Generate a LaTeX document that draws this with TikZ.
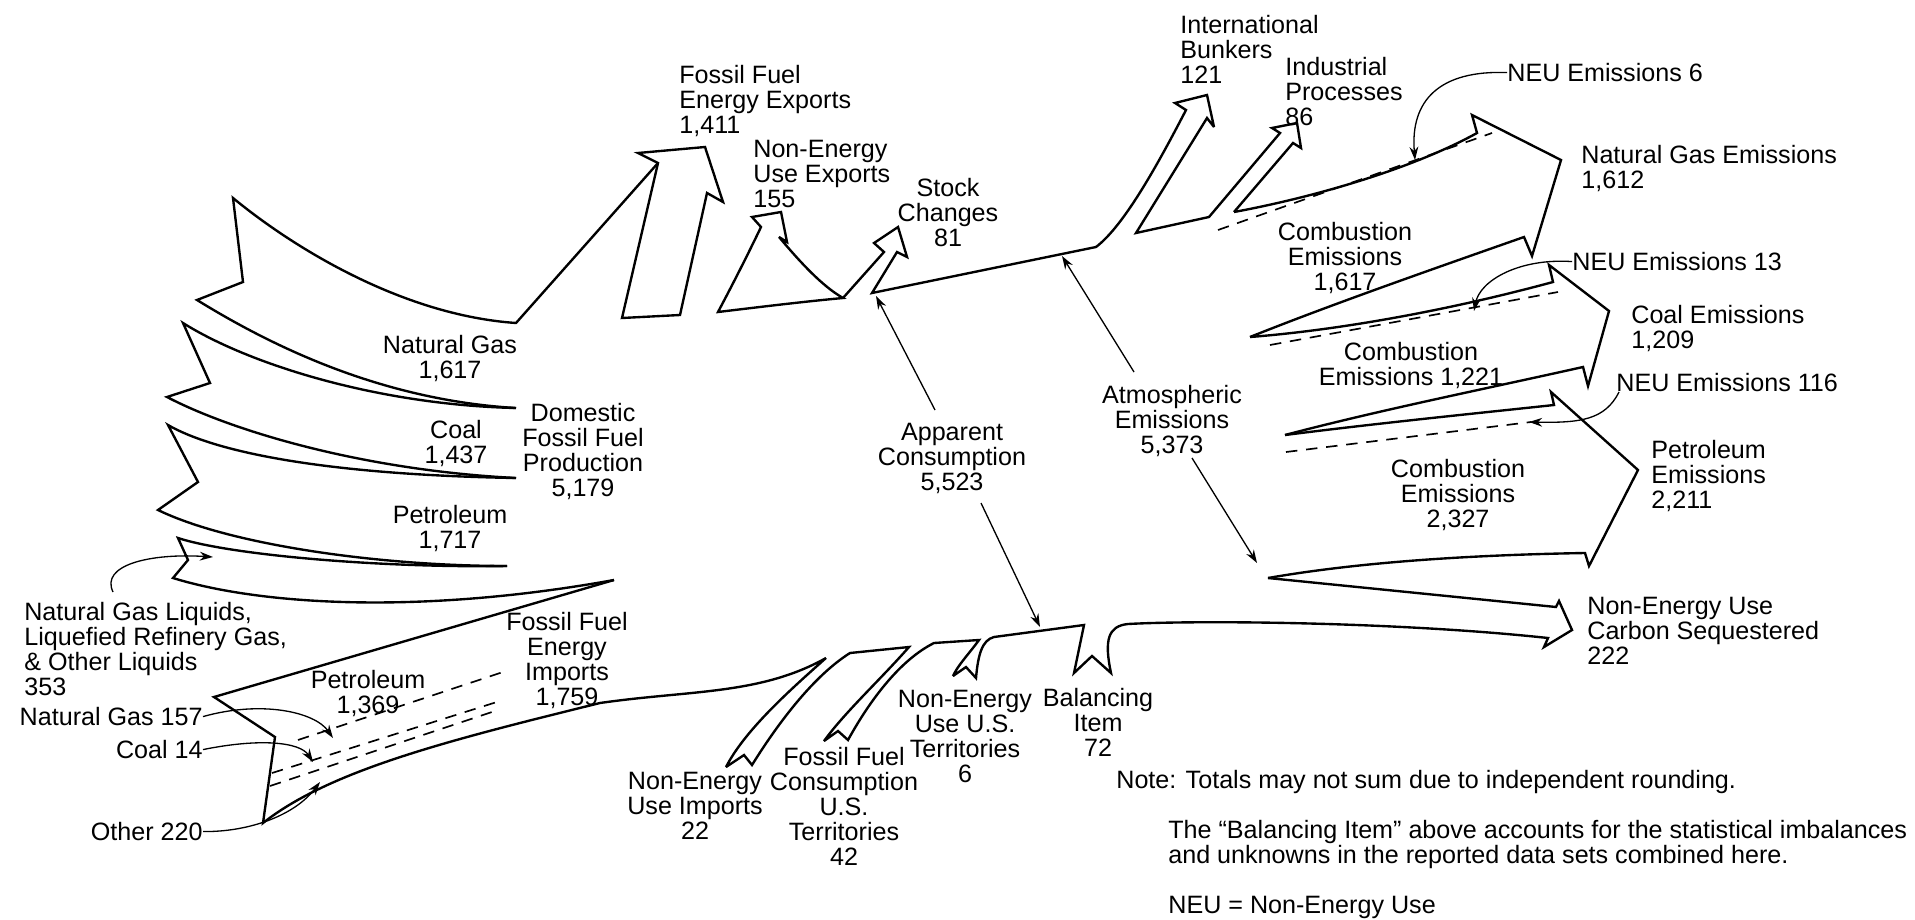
\documentclass[tikz,border=0pt]{standalone}
\usepackage{fontspec}
\setmainfont{Liberation Sans}
\usetikzlibrary{arrows.meta}
\newcommand\lblfont{\fontsize{14.3}{14.2}\selectfont}
\begin{document}
\begin{tikzpicture}[x=0.02cm, y=-0.02cm,
  flow/.style={line width=1.35pt, line join=miter, miter limit=4},
  sep/.style={line width=0.95pt, dash pattern=on 6.5pt off 5pt},
  ptr/.style={line width=0.75pt, -{Stealth[length=7.5pt,width=5pt]}},
  lbl/.style={font=\lblfont, inner sep=0pt, align=center, anchor=north},
  lbll/.style={font=\lblfont, inner sep=0pt, align=left, anchor=north west},
  lblr/.style={font=\lblfont, inner sep=0pt, align=right, anchor=north east}]
\useasboundingbox (0,0) rectangle (1915,919);

% ---------- domestic production ribbons ----------
\draw[flow] (658,163) -- (516,323) .. controls (400,315) and (290,245) .. (233,198)
  -- (243,282) -- (197,300) .. controls (270,345) and (380,400) .. (516,408);
\draw[flow] (516,408) .. controls (380,405) and (250,365) .. (183,323)
  -- (210,383) -- (167,397) .. controls (230,430) and (360,470) .. (516,478);
\draw[flow] (516,478) .. controls (340,475) and (220,455) .. (168,425)
  -- (198,482) -- (158,510) .. controls (230,545) and (380,566) .. (507,566);
\draw[flow] (507,566) .. controls (380,568) and (230,555) .. (178,538)
  -- (188,560) -- (173,578) .. controls (260,605) and (420,615) .. (614,580);

% ---------- imports and lower boundary with small inflows ----------
\draw[flow] (614,580) -- (214,697) -- (275,737) -- (263,823)
  .. controls (330,770) and (450,740) .. (600,703)
  .. controls (690,690) and (760,695) .. (826,658)
  .. controls (790,690) and (745,730) .. (726,767) -- (744,755) -- (752,765)
  .. controls (780,720) and (815,675) .. (850,653) -- (909,647)
  .. controls (880,680) and (845,712) .. (824,741) -- (838,731) -- (848,740)
  .. controls (870,700) and (900,660) .. (934,643) -- (979,640)
  .. controls (968,655) and (958,665) .. (953,676) -- (966,667) -- (976,678)
  .. controls (978,655) and (982,640) .. (994,637) -- (1084,625)
  -- (1074,673) -- (1092,656) -- (1111,673)
  .. controls (1104,640) and (1108,626) .. (1128,624)
  .. controls (1200,620) and (1400,622) .. (1548,638)
  -- (1544,647) -- (1572,630) -- (1559,601) -- (1556,607) -- (1268,578);

% ---------- emission arrows ----------
\draw[flow] (1268,578) .. controls (1360,562) and (1470,555) .. (1585,553)
  -- (1589,566) -- (1638,470) -- (1551,392) -- (1554,405)
  .. controls (1470,414) and (1380,423) .. (1285,435);
\draw[flow] (1285,435) .. controls (1380,410) and (1480,390) .. (1583,367)
  -- (1588,386) -- (1609,311) -- (1549,265) -- (1553,282)
  .. controls (1450,310) and (1340,330) .. (1250,337);
\draw[flow] (1250,337) .. controls (1330,305) and (1430,270) .. (1524,237)
  -- (1532,256) -- (1561,160) -- (1472,115) -- (1477,133)
  .. controls (1410,170) and (1310,198) .. (1234,212);

% ---------- upper boundary: processes, bunkers, stock changes ----------
\draw[flow] (1234,212) -- (1293,143) -- (1301,148) -- (1297,123) -- (1272,128) -- (1280,133)
  -- (1209,217) -- (1136,233) -- (1207,118) -- (1214,127) -- (1207,95) -- (1175,103) -- (1186,110)
  .. controls (1160,160) and (1125,225) .. (1096,247) -- (872,293)
  -- (897,252) -- (907,257) -- (898,227) -- (874,243) -- (884,252) -- (843,298);

% ---------- export arrows ----------
\draw[flow] (622,318) -- (658,163) -- (638,153) -- (705,147) -- (723,202) -- (707,193) -- (680,315) -- cycle;
\draw[flow] (718,312) .. controls (735,280) and (750,250) .. (761,227) -- (752,217) -- (781,212)
  -- (787,242) -- (779,237) .. controls (800,262) and (822,286) .. (843,298)
  .. controls (800,302) and (760,307) .. cycle;

% ---------- dashed splits ----------
\draw[sep] (298,740) -- (503,672);
\draw[sep] (272,773) -- (500,701);
\draw[sep] (270,786) -- (498,710);
\draw[sep] (1218,230) -- (1492,133);
\draw[sep] (1270,345) -- (1558,292);
\draw[sep] (1286,452) -- (1531,422);

% ---------- labels ----------
\node[lbll] (ffx) at (679,65) {Fossil Fuel\\Energy Exports\\1,411};
\node[lbll] (neux) at (753,140) {Non-Energy\\Use Exports\\155};
\node[lbl] (stock) at (948,178) {Stock\\Changes\\81};
\node[lbll] (bunk) at (1180,15) {International\\Bunkers\\121};
\node[lbll] (ip) at (1285,57) {Industrial\\Processes\\86};
\node[lbll] (neu6) at (1507,63) {NEU Emissions 6};
\node[lbll] (nge) at (1581,145) {Natural Gas Emissions\\1,612};
\node[lbl] (comb1) at (1345,222) {Combustion\\Emissions\\1,617};
\node[lbll] (neu13) at (1572,252) {NEU Emissions 13};
\node[lbll] (coale) at (1631,305) {Coal Emissions\\1,209};
\node[lbl] (comb2) at (1411,342) {Combustion\\Emissions 1,221};
\node[lbll] (neu116) at (1616,373) {NEU Emissions 116};
\node[lbll] (pete) at (1651,440) {Petroleum\\Emissions\\2,211};
\node[lbl] (comb3) at (1458,459) {Combustion\\Emissions\\2,327};
\node[lbl] (atm) at (1172,385) {Atmospheric\\Emissions\\5,373};
\node[lbl] (app) at (952,423) {Apparent\\Consumption\\5,523};
\node[lbll] (seq) at (1587,597) {Non-Energy Use\\Carbon Sequestered\\222};
\node[lbl] (bal) at (1098,688) {Balancing\\Item\\72};
\node[lbl] (neut) at (965,690) {Non-Energy\\Use U.S.\\Territories\\6};
\node[lbl] (fft) at (844,747) {Fossil Fuel\\Consumption\\U.S.\\Territories\\42};
\node[lbl] (neui) at (695,772) {Non-Energy\\Use Imports\\22};
\node[lbl] (imp) at (567,612) {Fossil Fuel\\Energy\\Imports\\1,759};
\node[lbl] (ipet) at (368,670) {Petroleum\\1,369};
\node[lbll] (ngl) at (24,602) {Natural Gas Liquids,\\Liquefied Refinery Gas,\\\& Other Liquids\\353};
\node[lblr] (ng157) at (203,707) {Natural Gas 157};
\node[lblr] (coal14) at (203,740) {Coal 14};
\node[lblr] (oth220) at (203,822) {Other 220};
\node[lbl] (dng) at (450,335) {Natural Gas\\1,617};
\node[lbl] (dcoal) at (456,420) {Coal\\1,437};
\node[lbl] (dom) at (583,403) {Domestic\\Fossil Fuel\\Production\\5,179};
\node[lbl] (dpet) at (450,505) {Petroleum\\1,717};
\node[lbll] (note1) at (1116,770) {Note: Totals may not sum due to independent rounding.};
\node[lbll] (note2) at (1168,820) {The “Balancing Item” above accounts for the statistical imbalances\\and unknowns in the reported data sets combined here.};
\node[lbll] (note3) at (1168,896) {NEU = Non-Energy Use};

% ---------- pointer ends ----------
\coordinate (nglStart) at (113,592);
\coordinate (nglTip) at (213,557);
\coordinate (ng157Tip) at (333,738);
\coordinate (coal14Tip) at (313,762);
\coordinate (oth220Tip) at (320,782);
\coordinate (appUp) at (935,410);
\coordinate (appDown) at (981,503);
\coordinate (stockFoot) at (876,296);
\coordinate (balTop) at (1040,627);
\coordinate (atmUp) at (1134,372);
\coordinate (atmDown) at (1192,458);
\coordinate (topEdge) at (1062,256);
\coordinate (seqFoot) at (1257,563);
\coordinate (neu6Tip) at (1415,160);
\coordinate (neu13Tip) at (1474,311);
\coordinate (neu116Start) at (1619,392);
\coordinate (neu116Tip) at (1529,422);

% ---------- pointers ----------
\draw[ptr] (nglStart) .. controls (100,565) and (150,553) .. (nglTip);
\draw[ptr] (ng157.east) .. controls (262,700) and (315,712) .. (ng157Tip);
\draw[ptr] (coal14.east) .. controls (260,738) and (300,742) .. (coal14Tip);
\draw[ptr] (oth220.east) .. controls (250,832) and (295,815) .. (oth220Tip);
\draw[ptr] (appUp) -- (stockFoot);
\draw[ptr] (appDown) -- (balTop);
\draw[ptr] (atmUp) -- (topEdge);
\draw[ptr] (atmDown) -- (seqFoot);
\draw[ptr] (neu6.west) .. controls (1440,70) and (1410,100) .. (neu6Tip);
\draw[ptr] (neu13.west) .. controls (1520,258) and (1480,280) .. (neu13Tip);
\draw[ptr] (neu116Start) .. controls (1605,420) and (1580,423) .. (neu116Tip);
\end{tikzpicture}
\end{document}
